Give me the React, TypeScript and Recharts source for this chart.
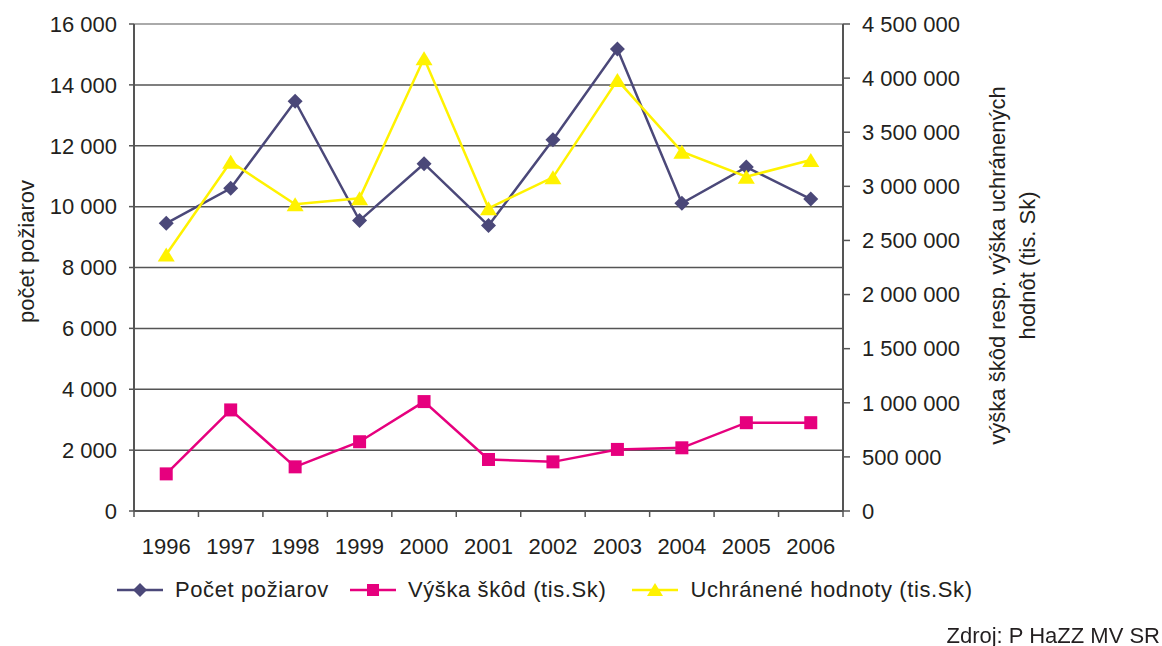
import React from 'react';
import { LineChart, Line, XAxis, YAxis, CartesianGrid, Legend, ReferenceLine } from 'recharts';

const years = ['1996', '1997', '1998', '1999', '2000', '2001', '2002', '2003', '2004', '2005', '2006'];
const pocet = [9452, 10600, 13462, 9541, 11410, 9377, 12197, 15180, 10108, 11300, 10250];
const skody = [343000, 934000, 408000, 640000, 1011000, 476000, 454000, 569000, 584000, 816000, 816000];
const uchranene = [2370000, 3227000, 2834000, 2889000, 4183000, 2797000, 3083000, 3982000, 3320000, 3089000, 3243000];
const leftTicks = [0, 2000, 4000, 6000, 8000, 10000, 12000, 14000, 16000];
const rightTicks = [0, 500000, 1000000, 1500000, 2000000, 2500000, 3000000, 3500000, 4000000, 4500000];

const NAMES = {
  pocet: 'Počet požiarov',
  skody: 'Výška škôd (tis.Sk)',
  uchranene: 'Uchránené hodnoty (tis.Sk)',
};
const COLORS = { pocet: '#4b4879', skody: '#e6007e', uchranene: '#fff200' };

const data = years.map((y, i) => ({ year: y, pocet: pocet[i], skody: skody[i], uchranene: uchranene[i] }));

const FONT = '"Liberation Sans", Arial, sans-serif';
const fmt = (v: number) => String(v).replace(/\B(?=(\d{3})+(?!\d))/g, ' ');

const Diamond = (props: any) => {
  const { cx, cy, index } = props;
  if (cx == null || cy == null) return <g key={`d${index}`} />;
  const r = 7.5;
  return <path key={`d${index}`} d={`M${cx},${cy - r}L${cx + r},${cy}L${cx},${cy + r}L${cx - r},${cy}Z`} fill={COLORS.pocet} />;
};
const Square = (props: any) => {
  const { cx, cy, index } = props;
  if (cx == null || cy == null) return <g key={`s${index}`} />;
  const r = 6.5;
  return <rect key={`s${index}`} x={cx - r} y={cy - r} width={2 * r} height={2 * r} fill={COLORS.skody} />;
};
const Triangle = (props: any) => {
  const { cx, cy, index } = props;
  if (cx == null || cy == null) return <g key={`t${index}`} />;
  const w = 8.5, h = 7;
  return <path key={`t${index}`} d={`M${cx},${cy - h}L${cx + w},${cy + h}L${cx - w},${cy + h}Z`} fill={COLORS.uchranene} />;
};

const XTick = (props: any) => {
  const { x, y, payload, index } = props;
  const off = payload && payload.offset ? payload.offset : 0;
  return (
    <g>
      {index === 0 && off > 0 && <line x1={x - off} y1={y} x2={x - off} y2={y + 6} stroke="#555" strokeWidth={1.5} />}
      {off > 0 && <line x1={x + off} y1={y} x2={x + off} y2={y + 6} stroke="#555" strokeWidth={1.5} />}
      <text x={x} y={y + 43} textAnchor="middle" fontSize={22} fontFamily={FONT} fill="#231f20">
        {payload.value}
      </text>
    </g>
  );
};

const LeftLabel = (props: any) => {
  const { viewBox } = props;
  const cx = viewBox.x + 26;
  const cy = viewBox.y + viewBox.height / 2 - 16;
  return (
    <text x={cx} y={cy} transform={`rotate(-90 ${cx} ${cy})`} textAnchor="middle" dominantBaseline="central" fontSize={22} fontFamily={FONT} fill="#231f20">
      počet požiarov
    </text>
  );
};

const RightLabel = (props: any) => {
  const { viewBox } = props;
  const cy = viewBox.y + viewBox.height / 2 - 2;
  const x1 = viewBox.x + 154;
  const x2 = viewBox.x + 184;
  return (
    <g>
      <text x={x1} y={cy} transform={`rotate(-90 ${x1} ${cy})`} textAnchor="middle" dominantBaseline="central" fontSize={22} fontFamily={FONT} fill="#231f20">
        výška škôd resp. výška uchránených
      </text>
      <text x={x2} y={cy} transform={`rotate(-90 ${x2} ${cy})`} textAnchor="middle" dominantBaseline="central" fontSize={22} fontFamily={FONT} fill="#231f20">
        hodnôt (tis. Sk)
      </text>
    </g>
  );
};

const LegendMarker = ({ kind }: { kind: 'pocet' | 'skody' | 'uchranene' }) => {
  const c = COLORS[kind];
  return (
    <svg width={46} height={20} style={{ display: 'block' }}>
      <line x1={0} y1={10} x2={46} y2={10} stroke={c} strokeWidth={2.5} />
      {kind === 'pocet' && <path d="M23,3L30,10L23,17L16,10Z" fill={c} />}
      {kind === 'skody' && <rect x={17} y={4} width={12} height={12} fill={c} />}
      {kind === 'uchranene' && <path d="M23,3L31,16L15,16Z" fill={c} />}
    </svg>
  );
};

const LegendContent = () => {
  const items: Array<{ k: 'pocet' | 'skody' | 'uchranene'; gap: number }> = [
    { k: 'pocet', gap: 21 },
    { k: 'skody', gap: 26 },
    { k: 'uchranene', gap: 0 },
  ];
  return (
    <div style={{ display: 'flex', alignItems: 'center', height: 40, fontFamily: FONT, fontSize: 22, color: '#231f20', whiteSpace: 'nowrap' }}>
      {items.map((it) => (
        <div key={it.k} style={{ display: 'flex', alignItems: 'center', marginRight: it.gap }}>
          <LegendMarker kind={it.k} />
          <span style={{ marginLeft: 12, letterSpacing: 0.6 }}>{NAMES[it.k]}</span>
        </div>
      ))}
    </div>
  );
};

export default function App() {
  return (
    <div style={{ position: 'fixed', left: 0, top: 0, width: 1162, height: 646, background: '#fff' }}>
      <LineChart width={1162} height={646} data={data} margin={{ top: 24, right: 0, bottom: 36, left: 0 }}>
        <CartesianGrid vertical={false} stroke="#555" strokeWidth={1.5} yAxisId="left" />
        <XAxis
          dataKey="year"
          scale="band"
          height={59}
          tickSize={0}
          tickMargin={0}
          tick={<XTick />}
          axisLine={{ stroke: '#555', strokeWidth: 2 }}
          tickLine={false}
          interval={0}
        />
        <YAxis
          yAxisId="left"
          orientation="left"
          width={134}
          domain={[0, 16000]}
          ticks={leftTicks}
          tickFormatter={fmt}
          tickSize={5}
          tickMargin={12}
          tick={{ fontSize: 22, fontFamily: FONT, fill: '#231f20' }}
          axisLine={{ stroke: '#555', strokeWidth: 2 }}
          tickLine={{ stroke: '#555', strokeWidth: 1.5 }}
          interval={0}
          label={<LeftLabel />}
        />
        <YAxis
          yAxisId="right"
          orientation="right"
          width={319}
          domain={[0, 4500000]}
          ticks={rightTicks}
          tickFormatter={fmt}
          tickSize={7}
          tickMargin={12}
          tick={{ fontSize: 22, fontFamily: FONT, fill: '#231f20', textAnchor: 'start' }}
          axisLine={{ stroke: '#555', strokeWidth: 2 }}
          tickLine={{ stroke: '#555', strokeWidth: 1.5 }}
          interval={0}
          label={<RightLabel />}
        />
        <ReferenceLine yAxisId="left" y={16000} stroke="#aaa" strokeWidth={2} />
        <Line yAxisId="left" dataKey="pocet" name={NAMES.pocet} stroke={COLORS.pocet} strokeWidth={2.5} dot={<Diamond />} activeDot={false} isAnimationActive={false} />
        <Line yAxisId="right" dataKey="skody" name={NAMES.skody} stroke={COLORS.skody} strokeWidth={2.5} dot={<Square />} activeDot={false} isAnimationActive={false} />
        <Line yAxisId="right" dataKey="uchranene" name={NAMES.uchranene} stroke={COLORS.uchranene} strokeWidth={2.5} dot={<Triangle />} activeDot={false} isAnimationActive={false} />
        <Legend
          verticalAlign="bottom"
          align="left"
          height={40}
          content={<LegendContent />}
          wrapperStyle={{ left: 117, width: 'auto' }}
        />
      </LineChart>
      <div style={{ position: 'absolute', right: 2, top: 623, fontFamily: FONT, fontSize: 22, color: '#231f20', whiteSpace: 'nowrap' }}>
        Zdroj: P HaZZ MV SR
      </div>
    </div>
  );
}
